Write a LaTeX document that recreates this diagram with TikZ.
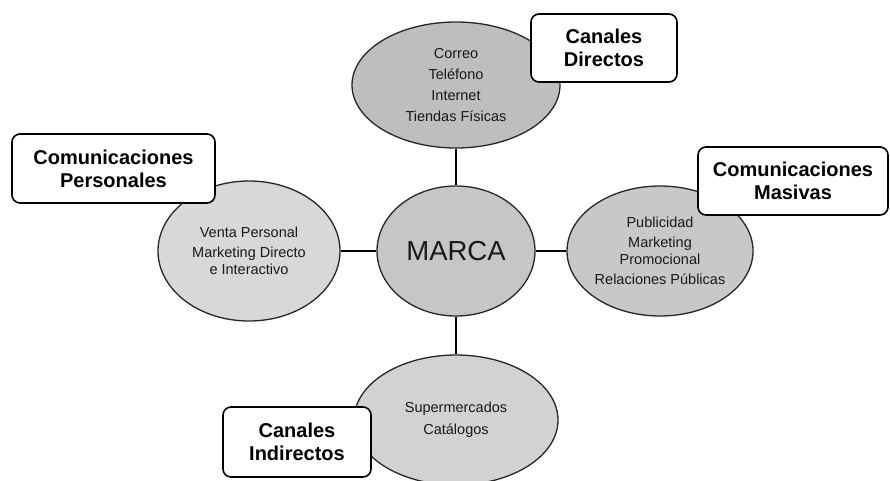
\documentclass[tikz,border=0pt]{standalone}
\usepackage{fontspec}
\setmainfont{Liberation Sans}
\usetikzlibrary{shapes.geometric}
\definecolor{grisdir}{HTML}{BEBEBE}
\definecolor{grismarca}{HTML}{C6C6C6}
\definecolor{grisper}{HTML}{D8D8D8}
\definecolor{grismas}{HTML}{C8C8C8}
\definecolor{grisind}{HTML}{D2D2D2}
\begin{document}
\begin{tikzpicture}[x=1pt, y=-1pt,
	elipse/.style={ellipse, draw=black!85, line width=1.3pt, inner sep=0pt, align=center,
		font=\fontsize{14.5}{17}\selectfont, text=black!90},
	caja/.style={draw, rounded corners=8pt, line width=1.6pt, fill=white, align=center,
		inner sep=0pt, font=\bfseries\fontsize{20}{23}\selectfont},
	enlace/.style={line width=1.6pt}]

\useasboundingbox (0, 0) rectangle (890, 480);
\clip (0, 0) rectangle (890, 480);

\node[elipse, fill=grismarca, minimum width=158pt, minimum height=130pt,
	font=\fontsize{27.5}{30}\selectfont] (marca) at (456, 251) {MARCA};

\node[elipse, fill=grisdir, minimum width=208pt, minimum height=126pt] (dir) at (456, 85)
	{Correo\\[4pt] Teléfono\\[4pt] Internet\\[4pt] Tiendas Físicas};
\node[elipse, fill=grisper, minimum width=182pt, minimum height=140pt] (per) at (249, 251)
	{Venta Personal\\[3pt] Marketing Directo\\ e Interactivo};
\node[elipse, fill=grismas, minimum width=186pt, minimum height=130pt] (mas) at (660, 251)
	{Publicidad\\[3pt] Marketing\\ Promocional\\[3pt] Relaciones Públicas};
\node[elipse, fill=grisind, minimum width=204pt, minimum height=130pt] (ind) at (456, 420)
	{Supermercados\\[5pt] Catálogos};

\draw[enlace] (dir.south) -- (marca.north);
\draw[enlace] (per.east) -- (marca.west);
\draw[enlace] (marca.east) -- (mas.west);
\draw[enlace] (marca.south) -- (ind.north);

\node[caja, minimum width=146pt, minimum height=68pt] (cdir) at (604, 48) {Canales\\ Directos};
\node[caja, minimum width=203pt, minimum height=69pt] (cper) at (113.5, 168.5) {Comunicaciones\\ Personales};
\node[caja, minimum width=190pt, minimum height=68pt] (cmas) at (793, 181) {Comunicaciones\\ Masivas};
\node[caja, minimum width=148pt, minimum height=70pt] (cind) at (297, 442) {Canales\\ Indirectos};

\end{tikzpicture}
\end{document}
